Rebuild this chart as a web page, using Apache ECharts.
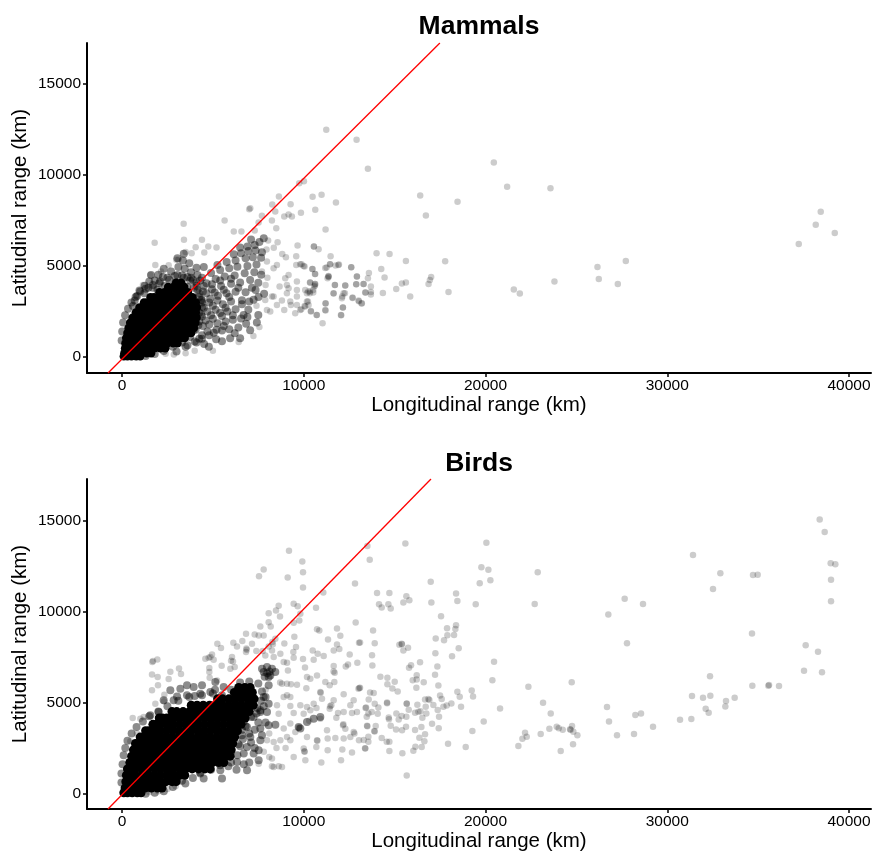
<!DOCTYPE html>
<html><head><meta charset="utf-8">
<style>html,body{margin:0;padding:0;background:#fff}#c{width:872px;height:851px}</style>
<script src="https://cdn.jsdelivr.net/npm/echarts@6/dist/echarts.min.js"></script>
</head><body><div id="c"></div>
<script>
const panelTitles = ['Mammals', 'Birds'];
const xAxisTitle = 'Longitudinal range (km)';
const yAxisTitle = 'Latitudinal range (km)';
const xTicks = [0, 10000, 20000, 30000, 40000];
const yTicks = [0, 5000, 10000, 15000];
const mammalLine = [[-770, -880], [17490, 17250]];
const birdLine = [[-770, -852], [17000, 17280]];

// Solid core of each cloud, read as rows: [latitudinal range, longitudinal ranges...]
const mammalCoreRows = [
[40,100,300,520,780,1000],
[200,130,330,560,800,1050,1370,1600],
[480,170,380,600,860,1180,1480,1790,2110,2380],
[760,190,400,640,930,1240,1530,1860,2170,2490,2820,3050],
[1040,230,430,690,990,1300,1610,1930,2260,2570,2890,3230,3450],
[1320,300,500,760,1060,1390,1700,2020,2320,2660,2980,3300,3640,3800],
[1600,360,570,840,1150,1470,1790,2100,2430,2750,3080,3410,3730,3950],
[1880,450,650,930,1240,1560,1870,2190,2520,2860,3170,3490,3820,4040],
[2160,580,780,1060,1360,1680,2000,2320,2640,2960,3290,3610,3930,4100],
[2440,760,950,1210,1520,1840,2160,2470,2790,3120,3430,3760,4060],
[2720,960,1130,1390,1700,2010,2320,2640,2960,3280,3590,3900,4120],
[3000,1210,1380,1640,1940,2260,2560,2880,3190,3500,3790,4060],
[3280,1570,1760,2040,2340,2670,2990,3300,3610,3880],
[3560,2060,2340,2660,3010,3310,3620],
[3840,2540,2820,3120,3420],
[4080,2980,3260]
];
const birdCoreRows = [
[40,100,300,560,840,1050],
[300,170,330,600,930,1260,1610,1950,2200],
[650,210,390,690,1040,1380,1720,2070,2420,2760,2980],
[1000,240,430,740,1090,1430,1780,2120,2470,2810,3150,3450],
[1350,300,490,740,1090,1430,1790,2130,2480,2820,3170,3510,3860,4210,4560,4850],
[1700,430,600,830,1170,1520,1870,2210,2560,2900,3250,3600,3940,4290,4640,4980,5320,5600],
[2050,530,690,910,1250,1600,1950,2290,2640,2980,3330,3680,4020,4370,4720,5060,5410,5750,5950],
[2400,630,790,1000,1340,1690,2030,2380,2730,3070,3420,3760,4110,4460,4800,5150,5490,5840,6010],
[2750,740,900,1110,1450,1800,2140,2490,2840,3180,3530,3870,4220,4570,4910,5260,5600,5950,6090],
[3100,1000,1180,1390,1740,2080,2430,2770,3120,3470,3810,4160,4500,4850,5200,5540,5890,6200],
[3450,1300,1480,1750,2090,2440,2780,3130,3480,3820,4170,4510,4860,5210,5550,5900,6240,6350],
[3800,1700,1900,2130,2480,2820,3170,3520,3860,4210,4550,4900,5250,5590,5940,6280,6550],
[4150,2050,2220,2460,2810,3160,3500,3850,4190,4540,4890,5230,5580,5920,6270,6610,6780],
[4500,2750,3010,3360,3710,4050,4400,4740,5090,5440,5780,6130,6470,6820,7000],
[4850,3810,4130,4470,4820,5170,5510,5860,6200,6550,6900,7220],
[5200,5260,5530,5880,6230,6570,6920,7270],
[5550,6180,6490,6840,7170],
[5830,6420,6760,7050]
];

// Darker scatter around the solid core
const mammalMid = [
[3600,640],[4100,800],[4520,720],[4780,570],[5180,980],[5500,860],[5950,1030],[6500,1030],[6200,1300],[7050,1470],[6830,1830],[7420,1900],[7500,2310],[6690,2310],[6950,2600],[7240,3140],[7510,3300],[7820,3480],[7350,3680],
[4400,1200],[4700,1400],[5050,1330],[5500,1450],[5900,1520],[6400,1620],[4450,1700],[4800,1780],[5250,1850],[5700,1950],[6100,2040],[6550,2120],[4400,2220],[4900,2300],[5400,2420],[5800,2500],[6250,2630],[4500,2700],[5000,2820],[5550,2900],[6000,3050],[6600,3120],[7000,3050],
[4400,3120],[4850,3200],[5280,3370],[5750,3500],[6250,3590],[6800,3560],[7150,3810],[4450,3600],[4950,3720],[5450,3900],[6000,4020],[6500,4100],[7050,4230],[7500,4080],[4650,4050],[5150,4280],[5650,4420],[6200,4480],[6750,4600],[7280,4650],[7660,4520],[4400,4360],[4900,4620],[5400,4780],[5900,4880],[6350,4960],[6900,5000],[7400,5080],[5250,5050],[5760,5220],[6250,5300],[6800,5420],[7200,5480],[7650,5450],[6150,5640],[6550,5700],[6950,5830],[7350,5850],[7700,5760],[6500,6020],[6900,6070],[7300,6150],[7560,6320],[7800,6520],[7100,6450],
[600,2800],[700,3100],[830,3350],[960,3650],[1230,3500],[1450,3800],[1250,3920],[1700,3800],[1950,3700],[1500,4150],[1800,4200],[2050,4050],[2350,3900],[2600,3780],[2900,3730],[1600,4500],[2000,4520],[2250,4400],[2600,4250],[2950,4100],[3300,3950],[3600,3850],[3950,3800],[2300,4850],[2700,4700],[3050,4500],[3400,4350],[3750,4200],[4100,4100],[3100,4950],[3450,4850],[3800,4650],[4150,4500],[3350,5300],[3700,5150],[4100,4900],[4500,4950],[3050,5420],[3400,5680],
[-20,900],[10,1400],[60,1900],[170,2300],[330,2650],[520,3000],[750,3300],[1000,3600],[1300,3750],[1700,3950],[2100,4150],[2500,4350],[2900,4450],[3300,4480],[3600,4400],[3900,4250],[4100,3900],[4250,3500],[4350,3150],[4400,2750],[4350,2350],[4250,1950],[4050,1500],[3750,1100],[3300,800],[2800,560],[2300,330],[1800,170],[1300,60],[3000,300],[3500,560],[4000,850],[4400,1000],
[3950,1500],[4200,1750],[4600,2000],[5000,2100],[3900,2100],[4250,2450],[4700,2500],[5150,2600],[4050,2800],[4400,3000],[4800,3000],[5250,3100],[4250,3300],[4650,3500],[5100,3550],[4150,3700],[4500,3900],[4950,4000],[4300,4200],[3800,4350],[5200,1500],[4800,1200],[4250,1000],[5600,1700],[5500,2250],[5700,2700],[5900,3300],[5600,3700],[5400,4200],[6000,4300],[6400,3800],[6600,2900],[6100,2300],[6900,2200]
];
const mammalSparse = [
[11238,12485],[12906,11935],[13530,10340],[20458,10690],[21190,9350],[23575,9277],[16407,8875],[18460,8525],[16720,7775],[10487,8800],[10980,8910],[11770,8490],[10633,8085],[9845,7920],[10010,9660],[9751,9552],[11200,7005],[10560,6070],[10816,5920],[11476,5538],[14006,5700],[14720,5666],[15620,5280],[17780,5260],[12613,4933],[10468,4840],[11183,4895],[11440,5100],[11750,5025],[11935,5080],[9880,5100],[10046,4970],[10615,4565],[14263,4840],[13585,4620],[12925,4420],[13530,4328],[14446,4365],[11350,4420],[11370,4400],[17010,4400],[16940,4235],[16866,4017],[23794,4145],[15400,4035],[15620,4090],[13291,4016],[12888,3998],[12283,3925],[11715,3960],[10340,4090],[10615,4017],[10615,3925],[10520,3680],[13694,3870],[15088,3740],[21558,3705],[21888,3485],[17965,3575],[14354,3520],[13401,3540],[13694,3570],[13694,3430],[15857,3320],[12265,3500],[12118,3320],[11641,3485],[12686,3245],[13035,3063],[13181,2935],[10248,3595],[10340,3500],[10080,3680],[11201,2935],[12155,2715],[10395,2530],[11201,2550],[10706,2312],[12045,2312],[10230,3045],[10046,2806],[9863,2623],[26160,4950],[26233,4290],[27280,4015],[27720,5280],[37235,6215],[38170,7260],[38445,7975],[39215,6820],
[9275,8397],[8633,8819],[8267,8379],[7057,8177],[7000,8120],[8431,7994],[8926,7719],[9165,7829],[9348,7719],[8248,7499],[7698,7756],[7515,7389],[5645,7500],[3391,7316],[8487,7077],[1796,6271],[3409,6436],[4399,6436],[4747,6070],[4051,6033],[4527,5740],[3831,5703],[3501,5776],[2985,5340],[3100,5340],[1833,5061],[2566,5043],[1560,4510],[2150,4700],[1150,3950],[800,3380],[5200,6010],[6570,6900],[6150,6900],[7300,6950],[8040,6400],[7950,5900],[8350,6000],[8560,6300],
[9660,6125],[10558,6070],[9018,5483],[8816,5666],[9586,5538],[8523,5061],[7973,5245],[8340,4878],[9586,5061],[9806,5097],[9990,5006],[10485,4841],[11256,4915],[11455,5098],[11900,5061],[12611,4933],[12922,4420],[10631,4567],[11364,4456],[11309,4328],[9165,4512],[8981,4328],[9623,4145],[10356,4090],[11712,3961],[12282,3925],[12886,3998],[13290,4016],[10631,4017],[10576,3870],[9073,3961],[9165,3778],[9073,3503],[9623,3681],[9623,3320],[10340,3595],[10523,3540],[10173,3503],[8670,3870],[11640,3503],[12190,3503],[12098,3228],[12684,3265],[13014,3100],[13197,2953],[13381,3540],[8340,3320],[8248,3320],[7882,3136],[7973,2587],[8157,2495],[8798,3100],[8523,2862],[9256,3045],[9293,2862],[9623,2862],[10173,3045],[10265,2862],[9806,2587],[10081,2770],[8926,2587],[9531,2403],[10393,2495],[10722,2312],[11200,2953],[11181,2587],[12153,2715],[12061,2293],[11035,1853],[7400,2820],[7700,4700],[8000,4350],[7900,3950],[7230,1150],[6420,820],[5000,350],[4000,350],[3500,200],[2850,140],[2400,180],[7560,1650]
];
const birdMid = [
[3485,548],[4493,823],[5502,823],[6878,1280],[7519,1828],[6327,1737],[5410,1280],[4310,1097],[3026,823],[7244,2194],[6878,2559],[7519,2376],[7061,3108],[7611,2925],[6878,3656],[7244,4204],[7611,4570],[6650,3000],[6700,3950],[6300,1300],[5850,1500],
[2659,5667],[3576,5941],[4402,5941],[3210,5758],[3943,5850],[5135,6124],[5594,5850],[4860,5575],[2843,5118],[2293,5118],[1559,4296],[2017,4479],[3576,5393],[4310,5484],[3030,5330],[4000,5350],[5120,5700],
[7978,6946],[8253,6855],[8436,6672],[7794,6672],[8161,6489],[7703,6855],[8070,6398],[8120,6700],[7990,6600],[7850,6420],[7611,3565],[8070,3747],[8437,3784],[9720,3656],[9812,3565],[10179,3930],[10546,4113],[10912,4204],[8070,5941],[7794,5301],[8070,4936],[7611,4479],[7978,4479],
[-30,600],[-30,1100],[30,1600],[90,2100],[180,2500],[300,2900],[530,3300],[800,3650],[1150,3950],[1500,4250],[2000,4500],[2500,4800],[3100,5100],[3700,5300],[4400,5400],[5000,5500],[5500,5400],[6000,5700],[6500,6100],[7000,6150],[7500,6050],[7700,5600],[7650,5100],[7450,4700],[7100,4200],[6800,3700],[6600,3200],[6500,2600],[6350,2100],[6000,1700],[5400,1550],[4900,1300],[4300,1150],[3900,850],[3300,700],[2800,350],[2300,120],[1800,40],[1300,-20],
[5500,1700],[6000,2300],[6400,2700],[6600,3500],[7000,3300],[7300,3500],[7500,3900],[7100,2800],[6700,2200],[7000,1700],[6700,1600],[7300,2500],[7700,3200],[7900,3900],[7400,4400],[7800,4800],[7900,5300]
];
const birdSparse = [
[38386,15058],[38661,14363],[38991,12645],[39248,12590],[39010,11750],[39010,10560],[31417,13102],[32921,12097],[32517,11237],[34718,12005],[34975,12024],[34663,8788],[27657,10707],[28666,10415],[26758,9830],[27785,8258],[37616,8148],[38294,7783],[37524,6740],[38514,6668],[32352,6448],[34681,5918],[35562,5918],[35600,5955],[36149,5900],[31362,5351],[31967,5260],[32370,5370],[33709,5260],[33233,5077],[33196,4785],[32114,4657],[32279,4437],[26685,4748],[26795,3962],[28244,4309],[28556,4400],[29216,3669],[30702,4053],[31325,4090],[28171,3267],[27235,3194],
[15591,13742],[13500,13596],[13629,12846],[20048,13778],[19773,12426],[20158,12298],[20268,11713],[19681,11548],[22872,12151],[16985,11640],[14032,11018],[14711,11018],[15646,10835],[15811,10616],[15481,10488],[14142,10397],[14289,10214],[14656,10397],[14784,10159],[17022,10488],[18379,10982],[18452,10579],[19461,10397],[22707,10415],[17554,9738],[18379,9245],[18342,9044],[17884,9080],[17902,8697],[18269,8715],[17719,8422],[17260,8514],[13812,8952],[13904,8258],[13097,8294],[15389,8221],[15261,8167],[15400,8200],[15481,7856],[15738,8002],[18525,7984],[17242,7709],[18159,7545],[13757,7600],[13775,7033],[16398,7216],[15903,7051],[15793,6905],[17352,6978],[20470,7234],[17223,6521],[14216,6412],[14601,6357],[15004,6137],[14601,6009],[16215,6503],[15995,6229],[16215,6265],[16600,6119],[20378,6229],[17407,5936],[16196,5808],[14876,5772],[15169,5607],[22359,5863],[24743,6119],[18452,5589],[19241,5662],[18581,5315],[19314,5333],[17499,5388],[17590,5187],[16673,5169],[16857,5187],[16912,5132],[13647,5552],[13849,5516],[13097,5808],[13574,5169],[13904,4931],[14106,4730],[14583,5004],[14583,4960],[15665,4949],[15665,4930],[16251,4876],[18122,4949],[17865,4840],[17682,4767],[18654,4767],[20800,4675],[23166,4986],[23588,4401],[15775,4602],[16710,4767],[17132,4858],[17370,4584],[17444,4218],[16306,4492],[16123,4437],[16420,4520],[16746,4400],[16527,4163],[15096,4400],[15389,4254],[15646,4218],[15224,4072],[14674,4181],[14690,4080],[13427,4730],[13400,4700],[13739,4474],[13555,4400],[14069,4382],[13464,4218],[19901,3962],[17058,3834],[16472,3651],[16123,3487],[17425,3578],[15628,3669],[15408,3469],[15078,3523],[14784,3724],[13482,3724],[13500,3700],[13959,3706],[13886,3432],[13900,3400],[19277,3432],[22176,3341],[22267,3121],[22029,3011],[21808,2609],[23037,3267],[23514,3560],[23918,3669],[24028,3578],[24248,3505],[24761,3706],[24651,3524],[24680,3500],[24834,3395],[25055,3194],[24816,2701],[24138,2335],[16673,3249],[16361,3066],[16637,2865],[17939,2737],[18911,2554],[16490,2554],[16141,2573],[16031,2353],[14289,3048],[14564,2847],[14711,2847],[14711,2335],[15426,2207],[15665,982],[13299,2938],[13555,3121],[13555,2847],[13372,2481],
[9188,13344],[9922,12741],[9959,12156],[7794,12302],[7538,11937],[9115,11864],[9959,11315],[12820,11535],[11077,11041],[9445,10420],[9665,10292],[8620,10310],[8473,10054],[8070,9908],[8693,9725],[9812,9871],[9757,9506],[9445,9378],[10674,10200],[12856,9396],[8070,9414],[8180,9177],[7611,9177],[10729,9030],[10857,8957],[11829,9067],[12012,8665],[9482,8610],[11334,8464],[6823,8774],[7299,8738],[7519,8683],[7794,8683],[6621,8372],[6126,8281],[6327,8080],[7153,8226],[5245,8226],[5447,7988],[8932,8244],[13040,8281],[11829,8189],[11958,7933],[11646,7860],[9574,8043],[9427,7769],[10491,7860],[10766,7678],[11096,7549],[12526,7641],[9959,7385],[10546,7348],[12948,7184],[12435,7093],[12310,6980],[11646,7001],[11701,6636],[11640,6700],[10069,6928],[9079,7184],[9445,7458],[9130,6760],[6841,7970],[6823,7769],[6860,7900],[7391,7824],[7740,7824],[8070,8080],[8271,8318],[8437,8500],[8300,8200],[6052,7495],[6107,7257],[6199,6946],[5960,6855],[6000,7300],[4951,7641],[4768,7458],[4585,7403],[4860,7500],[5043,7348],[5484,7019],[4805,6892],[4805,6672],[3136,6873],[2659,6690],[3246,6563],[2567,6288],[1944,7367],[1669,7220],[1705,7275],[1650,6544],[1962,6398],[1980,5941],[1650,5667],[2329,5429],[2311,5063],[1834,4936],[4823,6361],[5227,6215],[587,4150],[1008,4113],[1192,4204],[458,2870],[825,3290],[8803,6032],[9078,6032],[9298,5996],[9628,5978],[10142,5777],[10729,6490],[10179,6398],[10362,6307],[11187,6124],[11426,5941],[11683,6124],[13058,5795],[13010,5760],[12196,5448],[10912,5575],[10930,5540],[11004,5210],[11517,4844],[11426,4661],[11450,4800],[11646,5118],[12563,4844],[12746,5118],[11884,4424],[12196,4479],[12654,4424],[12928,4479],[11792,4168],[12160,3747],[12180,3800],[12288,3564],[12746,3382],[12790,3300],[12563,3108],[12196,3016],[13039,2925],[13388,2468],[12123,2413],[12654,2248],[11315,3016],[11738,3053],[11279,3473],[10729,2925],[10750,2900],[10692,2559],[11315,2376],[12050,1828],[10967,1700],[10032,2322],[10050,2290],[10087,1828],[9445,2011],[8344,1462],[8620,1499],[8803,1462],[8253,1919],[7519,1640],
[8895,3565],[9262,3839],[9720,3620],[9079,3108],[8712,2925],[8345,2833],[7977,2925],[9262,2925],[9995,2468],[10179,3108],[9537,3382],[10912,4100],[10300,4000],[8100,3300],[8500,2500],[9000,2500],[8711,7678],[8253,7860],[7886,7586],[8345,7495],[8895,7221],[8528,4844],[8895,5301],[9262,5301],[9079,5393],[8620,4387],[9262,4808],[9812,4844],[10179,4753],[10546,4936],[9445,4424],[9995,4387],[10362,4570],[10700,4700],[7900,5700],[8700,6100],[8100,2000],[7800,2300],[8250,1500],[2950,400],[2500,250],[2000,130],[1500,80]
];

function flattenRows(rows) {
  const out = [];
  rows.forEach(r => r.slice(1).forEach(x => out.push([x, r[0]])));
  return out;
}
const font = '"Liberation Sans", Arial, Helvetica, sans-serif';
const plain = v => String(v);
function xA(i) {
  return {
    type: 'value', gridIndex: i, min: -1926, max: 41210, name: xAxisTitle,
    nameLocation: 'middle', nameGap: 22, nameMoveOverlap: false,
    nameTextStyle: { fontFamily: font, fontSize: 20.5, color: '#000' },
    splitLine: { show: false },
    axisLine: { onZero: false, lineStyle: { color: '#000', width: 2 } },
    axisTick: { length: 4, customValues: xTicks, lineStyle: { color: '#000', width: 1.5 } },
    axisLabel: { customValues: xTicks, formatter: plain, fontFamily: font, fontSize: 15.5, color: '#000', margin: 5, hideOverlap: false }
  };
}
function yA(i, lo, hi) {
  return {
    type: 'value', gridIndex: i, min: lo, max: hi, name: yAxisTitle,
    nameLocation: 'middle', nameGap: 56, nameMoveOverlap: false,
    nameTextStyle: { fontFamily: font, fontSize: 20.5, color: '#000' },
    splitLine: { show: false },
    axisLine: { onZero: false, lineStyle: { color: '#000', width: 2 } },
    axisTick: { length: 4, customValues: yTicks, lineStyle: { color: '#000', width: 1.5 } },
    axisLabel: { customValues: yTicks, formatter: plain, fontFamily: font, fontSize: 15.5, color: '#000', margin: 6 }
  };
}
function dots(i, data, size, alpha) {
  return { type: 'scatter', xAxisIndex: i, yAxisIndex: i, data, symbolSize: size, silent: true, large: false,
    itemStyle: { color: '#000', opacity: alpha, borderWidth: 0 }, animation: false };
}
function line(i, data) {
  return { type: 'line', xAxisIndex: i, yAxisIndex: i, data, showSymbol: false, symbol: 'none', silent: true, z: 5, clip: true,
    lineStyle: { color: '#f00', width: 1.3 }, animation: false };
}
const chart = echarts.init(document.getElementById('c'), null, { renderer: 'canvas' });
chart.setOption({
  animation: false, backgroundColor: '#fff',
  title: [
    { text: panelTitles[0], left: 474, top: 8, textAlign: 'center', textStyle: { fontFamily: font, fontSize: 26.5, fontWeight: 'bold', color: '#000' } },
    { text: panelTitles[1], left: 474, top: 445, textAlign: 'center', textStyle: { fontFamily: font, fontSize: 26.5, fontWeight: 'bold', color: '#000' } }
  ],
  grid: [
    { left: 87, top: 43, width: 784, height: 330, outerBoundsMode: 'none' },
    { left: 87, top: 479, width: 784, height: 330, outerBoundsMode: 'none' }
  ],
  xAxis: [xA(0), xA(1)],
  yAxis: [yA(0, -879, 17253), yA(1, -852, 17280)],
  series: [
    dots(0, mammalSparse, 6.5, 0.2), dots(0, mammalMid, 8, 0.45), dots(0, flattenRows(mammalCoreRows), 8.5, 1), line(0, mammalLine),
    dots(1, birdSparse, 6.5, 0.2), dots(1, birdMid, 8, 0.45), dots(1, flattenRows(birdCoreRows), 9, 1), line(1, birdLine)
  ]
});
</script></body></html>
